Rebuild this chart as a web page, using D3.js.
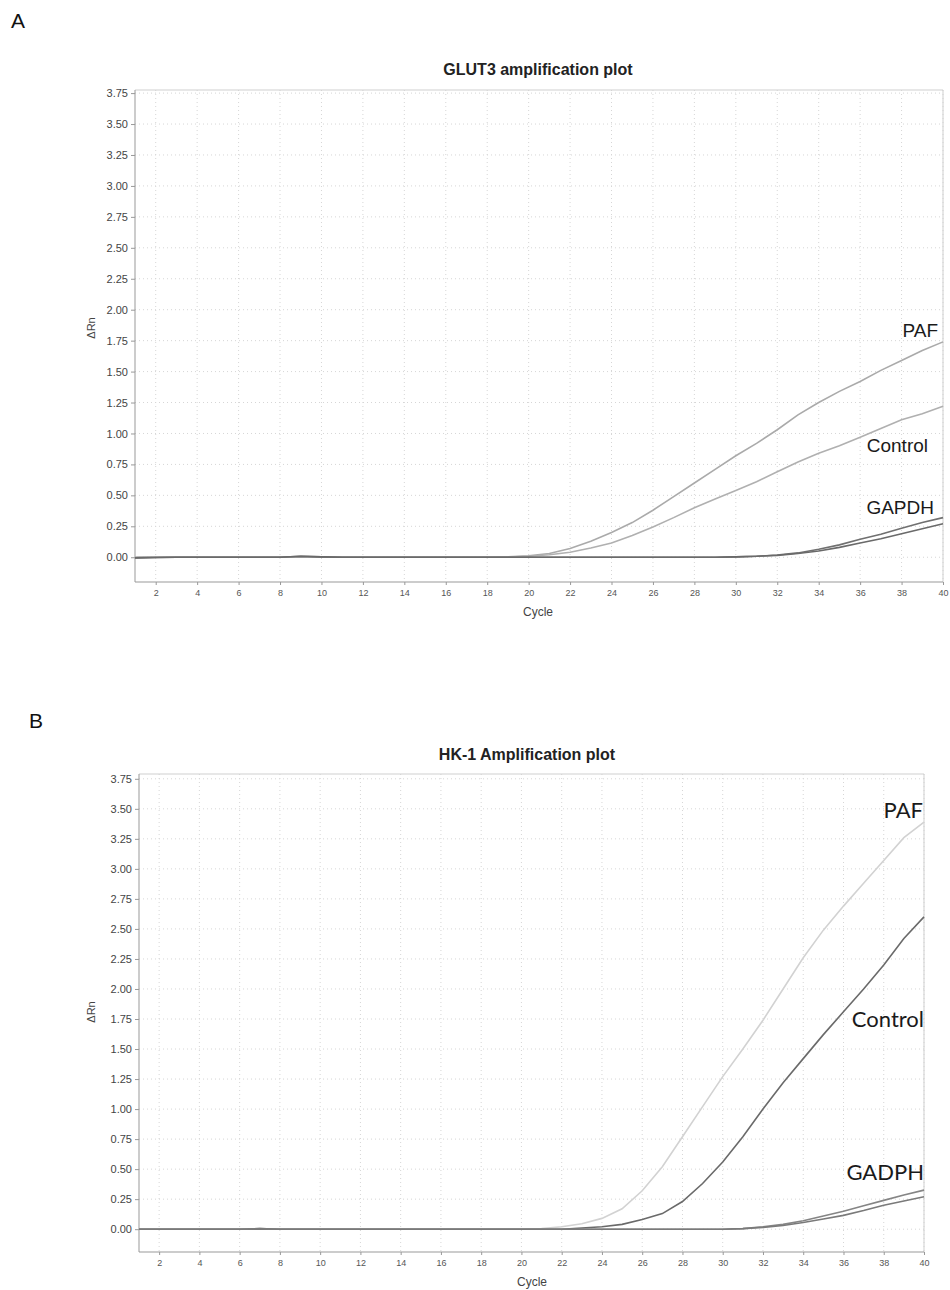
<!DOCTYPE html>
<html>
<head>
<meta charset="utf-8">
<title>Amplification plots</title>
<script src="https://d3js.org/d3.v7.min.js"></script>
<style>
  body { margin: 0; background: #fff; }
  svg { display: block; }
</style>
</head>
<body>
<div id="chart"></div>
<script>
// cycle numbers (x categories)
const cycles = [1,2,3,4,5,6,7,8,9,10,11,12,13,14,15,16,17,18,19,20,
                21,22,23,24,25,26,27,28,29,30,31,32,33,34,35,36,37,38,39,40];
const xTicks = [2,4,6,8,10,12,14,16,18,20,22,24,26,28,30,32,34,36,38,40];
const yTicks = [0,0.25,0.5,0.75,1,1.25,1.5,1.75,2,2.25,2.5,2.75,3,3.25,3.5,3.75];

// Panel A - GLUT3 (delta Rn per cycle)
const glutPAF = [0,0,0,0,0,0,0,0,0,0,0,0,0,0,0,0,0,0,0.003,0.012,
                 0.03,0.07,0.13,0.2,0.28,0.38,0.49,0.6,0.71,0.82,0.92,1.03,1.15,1.25,1.34,1.42,1.51,1.59,1.67,1.74];
const glutControl = [0,0,0,0,0,0,0,0,0,0,0,0,0,0,0,0,0,0,0.002,0.008,
                 0.02,0.04,0.075,0.115,0.175,0.245,0.32,0.4,0.47,0.54,0.61,0.69,0.77,0.84,0.9,0.97,1.04,1.11,1.16,1.22];
const glutGapdh1 = [-0.005,-0.002,0,0,0,0,0,0,0.008,0.003,0,0,0,0,0,0,0,0,0,0,
                 0,0,0,0,0,0,0,0,0,0.003,0.008,0.018,0.035,0.065,0.1,0.145,0.185,0.235,0.28,0.32];
const glutGapdh2 = [-0.005,-0.002,0,0,0,0,0,0,0.008,0.003,0,0,0,0,0,0,0,0,0,0,
                 0,0,0,0,0,0,0,0,0,0.003,0.008,0.015,0.03,0.05,0.08,0.115,0.15,0.19,0.23,0.27];

// Panel B - HK-1
const hkPAF = [0,0,0,0,0,0,0,0,0,0,0,0,0,0,0,0,0,0,0,0,
               0.005,0.02,0.045,0.09,0.17,0.32,0.52,0.77,1.02,1.27,1.5,1.74,2.0,2.26,2.49,2.69,2.88,3.07,3.26,3.39];
const hkControl = [0,0,0,0,0,0,0,0,0,0,0,0,0,0,0,0,0,0,0,0,
               0,0,0.01,0.02,0.04,0.08,0.13,0.23,0.38,0.56,0.77,1.0,1.22,1.42,1.62,1.81,2.0,2.2,2.42,2.6];
const hkGadph1 = [0,0,0,0,0,0,0.005,0,0,0,0,0,0,0,0,0,0,0,0,0,
               0,0,0,0,0,0,0,0,0,0,0.005,0.02,0.04,0.07,0.11,0.15,0.195,0.24,0.285,0.325];
const hkGadph2 = [0,0,0,0,0,0,0.005,0,0,0,0,0,0,0,0,0,0,0,0,0,
               0,0,0,0,0,0,0,0,0,0,0.005,0.015,0.03,0.055,0.085,0.115,0.155,0.2,0.235,0.27];

const svg = d3.select("#chart").append("svg")
    .attr("width", 950).attr("height", 1290);

function drawPanel(p) {
    let x = d3.scaleLinear().domain([1, 40]).range([p.left, p.right]);
    let y = d3.scaleLinear().domain([p.yMin, p.yMax]).range([p.bottom, p.top]);
    let g = svg.append("g");

    // panel letter
    g.append("text")
        .attr("x", p.letterX).attr("y", p.letterY)
        .attr("font-family", "Liberation Sans, Arial, sans-serif")
        .attr("font-size", "21px").attr("fill", "#111")
        .text(p.letter);

    // title
    g.append("text")
        .attr("x", p.titleX).attr("y", p.titleY)
        .attr("text-anchor", "middle")
        .attr("font-family", "Liberation Sans, Arial, sans-serif")
        .attr("font-weight", "bold").attr("font-size", "16px").attr("fill", "#222")
        .text(p.title);

    // dotted grid
    g.append("g").selectAll("line").data(xTicks).join("line")
        .attr("x1", d => x(d)).attr("x2", d => x(d))
        .attr("y1", p.top).attr("y2", p.bottom)
        .attr("stroke", "#d6d6d6").attr("stroke-dasharray", "1,3");
    g.append("g").selectAll("line").data(yTicks).join("line")
        .attr("x1", p.left).attr("x2", p.right)
        .attr("y1", d => y(d)).attr("y2", d => y(d))
        .attr("stroke", "#d6d6d6").attr("stroke-dasharray", "1,3");

    // frame top/right
    g.append("line").attr("x1", p.left).attr("x2", p.right)
        .attr("y1", p.top).attr("y2", p.top).attr("stroke", "#cfcfcf");
    g.append("line").attr("x1", p.right).attr("x2", p.right)
        .attr("y1", p.top).attr("y2", p.bottom).attr("stroke", "#cfcfcf");

    // axes
    let yAxis = g.append("g")
        .attr("transform", "translate(" + p.left + ",0)")
        .call(d3.axisLeft(y).tickValues(yTicks).tickFormat(d3.format(".2f")).tickSize(4).tickPadding(3));
    yAxis.select(".domain").attr("stroke", "#999").attr("d", "M0," + p.top + "V" + p.bottom);
    yAxis.selectAll(".tick line").attr("stroke", "#999");
    yAxis.selectAll("text").attr("font-family", "Liberation Sans, Arial, sans-serif")
        .attr("font-size", "11px").attr("fill", "#444");

    let xAxis = g.append("g")
        .attr("transform", "translate(0," + p.bottom + ")")
        .call(d3.axisBottom(x).tickValues(xTicks).tickSize(3).tickPadding(5));
    xAxis.select(".domain").attr("stroke", "#999").attr("d", "M" + p.left + ",0H" + p.right);
    xAxis.selectAll(".tick line").attr("stroke", "#999");
    xAxis.selectAll("text").attr("font-family", "Liberation Sans, Arial, sans-serif")
        .attr("font-size", "9px").attr("fill", "#555");

    // axis labels
    g.append("text")
        .attr("transform", "translate(" + p.yLabelX + "," + p.yLabelY + ") rotate(-90)")
        .attr("text-anchor", "middle")
        .attr("font-family", "Liberation Sans, Arial, sans-serif")
        .attr("font-size", "11px").attr("fill", "#444")
        .text("\u0394Rn");
    g.append("text")
        .attr("x", p.xLabelX).attr("y", p.xLabelY)
        .attr("text-anchor", "middle")
        .attr("font-family", "Liberation Sans, Arial, sans-serif")
        .attr("font-size", "12px").attr("fill", "#444")
        .text("Cycle");

    // amplification curves
    let line = d3.line()
        .x((d, i) => x(cycles[i]))
        .y(d => y(d));
    g.append("g").selectAll("path").data(p.series).join("path")
        .attr("d", s => line(s.values))
        .attr("fill", "none")
        .attr("stroke", s => s.color)
        .attr("stroke-width", 1.6);

    // curve labels
    g.append("g").selectAll("text").data(p.labels).join("text")
        .attr("x", d => d.x).attr("y", d => d.y)
        .attr("text-anchor", "end")
        .attr("font-family", p.labelFont)
        .attr("font-size", p.labelSize).attr("fill", "#1a1a1a")
        .text(d => d.text);
}

drawPanel({
    letter: "A", letterX: 11, letterY: 28,
    title: "GLUT3 amplification plot", titleX: 538, titleY: 75,
    left: 135, right: 943, top: 90, bottom: 582,
    yMin: -0.2, yMax: 3.775,
    yLabelX: 95, yLabelY: 328, xLabelX: 538, xLabelY: 616,
    series: [
        {values: glutPAF, color: "#aaaaaa"},
        {values: glutControl, color: "#b0b0b0"},
        {values: glutGapdh1, color: "#707070"},
        {values: glutGapdh2, color: "#6a6a6a"}
    ],
    labelFont: "Liberation Sans, Arial, sans-serif", labelSize: "19px",
    labels: [
        {text: "PAF", x: 938, y: 337},
        {text: "Control", x: 928, y: 452},
        {text: "GAPDH", x: 934, y: 514}
    ]
});

drawPanel({
    letter: "B", letterX: 29, letterY: 728,
    title: "HK-1 Amplification plot", titleX: 527, titleY: 760,
    left: 139, right: 924, top: 774, bottom: 1252,
    yMin: -0.19, yMax: 3.79,
    yLabelX: 95, yLabelY: 1012, xLabelX: 532, xLabelY: 1286,
    series: [
        {values: hkPAF, color: "#d2d2d2"},
        {values: hkControl, color: "#6a6a6a"},
        {values: hkGadph1, color: "#858585"},
        {values: hkGadph2, color: "#7a7a7a"}
    ],
    labelFont: "Lato, Noto Sans, sans-serif", labelSize: "22px",
    labels: [
        {text: "PAF", x: 923, y: 818},
        {text: "Control", x: 924, y: 1027},
        {text: "GADPH", x: 924, y: 1180}
    ]
});
</script>
</body>
</html>
